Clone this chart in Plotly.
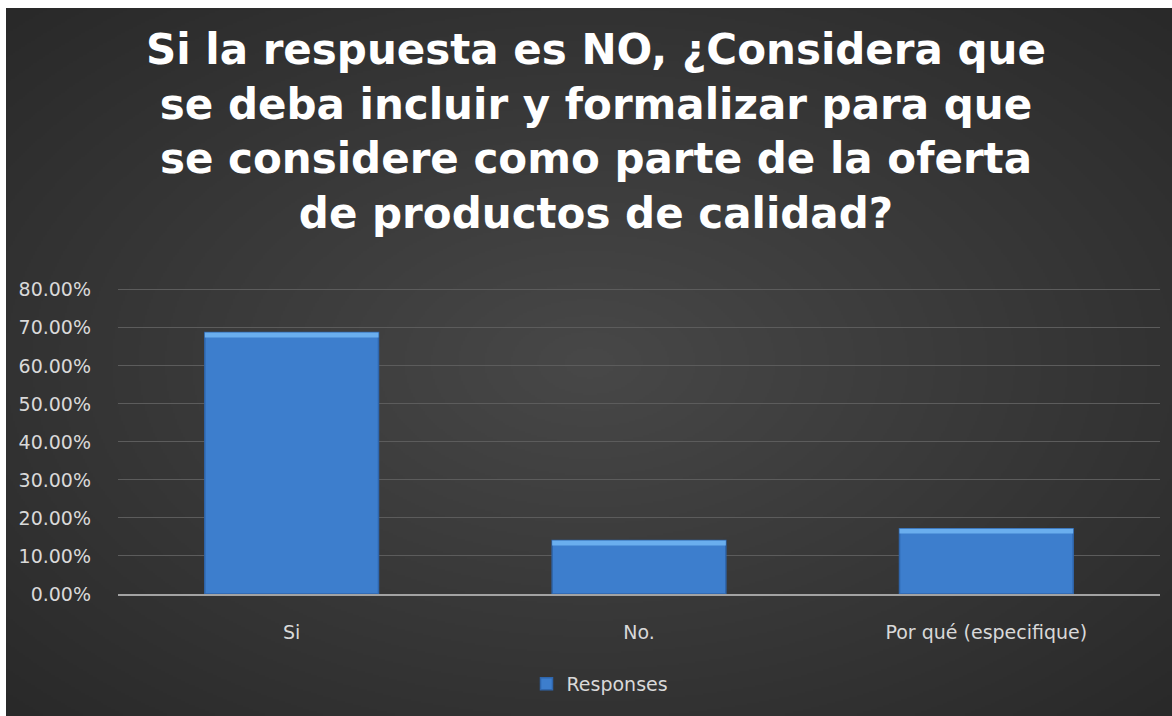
import base64
import struct
import zlib

import numpy as np
import plotly.graph_objects as go

# Survey results
categories = ["Si", "No.", "Por qué (especifique)"]
responses = [0.6875, 0.1406, 0.1719]
series_name = "Responses"
tick_values = [0, 0.1, 0.2, 0.3, 0.4, 0.5, 0.6, 0.7, 0.8]
tick_labels = ["0.00%", "10.00%", "20.00%", "30.00%", "40.00%",
               "50.00%", "60.00%", "70.00%", "80.00%"]
title_lines = [
    "Si la respuesta es NO, ¿Considera que",
    "se deba incluir y formalizar para que",
    "se considere como parte de la oferta",
    "de productos de calidad?",
]
y_max = 0.81

W, H = 1172, 716
ML, MR, MT, MB = 118, 12, 286, 122
PW, PH = W - ML - MR, H - MT - MB


def gray_png(arr):
    """Encode a 2-D uint8 array as a grayscale PNG data URI."""
    h, w = arr.shape
    raw = b"".join(b"\x00" + arr[i].tobytes() for i in range(h))

    def chunk(tag, data):
        c = struct.pack(">I", len(data)) + tag + data
        return c + struct.pack(">I", zlib.crc32(tag + data) & 0xFFFFFFFF)

    png = (b"\x89PNG\r\n\x1a\n"
           + chunk(b"IHDR", struct.pack(">IIBBBBB", w, h, 8, 0, 0, 0, 0))
           + chunk(b"IDAT", zlib.compress(raw, 9))
           + chunk(b"IEND", b""))
    return "data:image/png;base64," + base64.b64encode(png).decode()


# Dark radial backdrop for the chart area
bw, bh = 583, 354
yy, xx = np.mgrid[0:bh, 0:bw].astype(float)
d = np.sqrt(((xx - bw / 2) / (bw / 2)) ** 2 + ((yy - bh / 2) / (bh / 2)) ** 2) / np.sqrt(2)
bg = np.clip(72 - 31 * d, 0, 255).astype(np.uint8)
bg_uri = gray_png(bg)

# paper coordinates of the dark panel (inset from the white frame)
x0_px, y0_px = 6, 8
img_x = (x0_px - ML) / PW
img_y = (H - MB - y0_px) / PH
img_w = (W - x0_px) / PW
img_h = (H - y0_px) / PH

bevel = 0.013
fig = go.Figure()
fig.add_trace(go.Bar(
    x=categories, y=responses, name=series_name,
    marker=dict(color="#3d7ecd", line=dict(color="#2f66ad", width=1.5)),
    showlegend=True,
))
fig.add_trace(go.Bar(
    x=categories, y=[bevel] * len(responses),
    base=[v - bevel for v in responses],
    marker=dict(color="#6aaeee", line=dict(width=0)),
    showlegend=False, hoverinfo="skip",
))

tick_font = dict(family="DejaVu Sans", size=19, color="#d9d9d9")

fig.update_layout(
    width=W, height=H,
    margin=dict(l=ML, r=MR, t=MT, b=MB, pad=0),
    paper_bgcolor="#ffffff",
    plot_bgcolor="rgba(0,0,0,0)",
    barmode="overlay",
    bargap=0.5,
    images=[dict(
        source=bg_uri, xref="paper", yref="paper",
        x=img_x, y=img_y, sizex=img_w, sizey=img_h,
        xanchor="left", yanchor="top", sizing="stretch", layer="below",
    )],
    title=dict(
        text="<br>".join(title_lines),
        font=dict(family="DejaVu Sans", size=42, color="#ffffff", weight="bold"),
        x=596 / W, xanchor="center", xref="container",
        y=1 - 64 / H, yanchor="top", yref="container",
    ),
    legend=dict(
        orientation="h", x=(600 - ML) / PW, xanchor="center",
        y=(H - MB - 684) / PH, yanchor="middle",
        font=tick_font, bgcolor="rgba(0,0,0,0)",
    ),
    xaxis=dict(
        showgrid=False, showline=True, linecolor="#a3a3a3", linewidth=2,
        tickfont=tick_font, ticklabelstandoff=20, zeroline=False,
    ),
    yaxis=dict(
        range=[0, y_max], tickvals=tick_values, ticktext=tick_labels,
        showgrid=True, gridcolor="#5c5c5c", gridwidth=1,
        zeroline=False, showline=False,
        tickfont=tick_font, ticklabelstandoff=26,
    ),
)

fig.write_html("out.html")
